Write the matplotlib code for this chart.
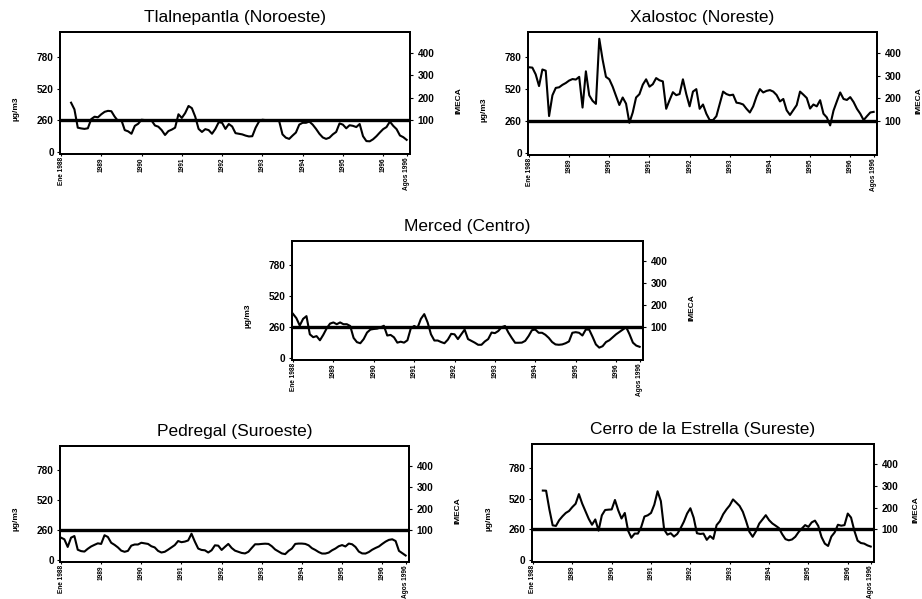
import numpy as np
import matplotlib
matplotlib.use("Agg")
import matplotlib.pyplot as plt

N = None
# Monthly values, Ene 1988 (index 0) ... Agos 1996 (index 103), ug/m3
tlalnepantla = [N, N, N, 405, 350, 200, 194, 190, 195, 270, 290, 285,
                310, 330, 338, 335, 290, 255, 262, 180, 170, 150, 215, 232,
                265, 262, 255, 258, 218, 208, 180, 140, 172, 184, 200, 310,
                280, 320, 378, 360, 290, 190, 165, 188, 180, 150, 190, 245,
                240, 190, 230, 210, 155, 150, 145, 135, 128, 130, 200, 250,
                265, 262, 260, 262, 260, 255, 145, 118, 108, 135, 160, 225,
                240, 240, 250, 225, 190, 150, 120, 108, 118, 145, 165, 235,
                225, 195, 220, 215, 205, 230, 130, 90, 88, 105, 130, 160,
                188, 205, 250, 215, 188, 136, 122, 100]
xalostoc = [698, 695, 640, 545, 680, 670, 301, 470, 530, 535, 555, 570,
            590, 602, 598, 620, 370, 665, 470, 425, 400, 930, 760, 620,
            600, 540, 465, 391, 452, 402, 246, 330, 452, 479, 556, 600,
            540, 560, 610, 592, 583, 360, 430, 495, 471, 480, 600, 480,
            380, 500, 520, 360, 395, 320, 268, 268, 300, 400, 500, 480,
            470, 475, 410, 405, 395, 360, 330, 380, 460, 520, 493, 506,
            512, 500, 472, 420, 440, 348, 310, 350, 390, 500, 475, 448,
            362, 395, 380, 430, 320, 290, 225, 345, 420, 493, 440, 432,
            455, 415, 360, 320, 268, 300, 330, 335]
merced = [372, 336, 274, 330, 353, 200, 176, 185, 150, 196, 250, 290,
          300, 285, 300, 285, 285, 270, 170, 134, 125, 160, 215, 240,
          245, 248, 258, 272, 190, 195, 175, 130, 138, 130, 150, 250,
          270, 255, 330, 370, 300, 200, 148, 148, 135, 125, 155, 204,
          200, 160, 200, 240, 160, 145, 130, 112, 112, 140, 160, 215,
          210, 228, 260, 270, 215, 170, 129, 129, 130, 145, 185, 235,
          240, 213, 213, 196, 170, 135, 115, 112, 115, 125, 140, 213,
          218, 213, 190, 240, 240, 180, 115, 88, 100, 135, 150, 175,
          200, 220, 240, 260, 200, 130, 105, 95]
pedregal = [194, 180, 114, 194, 208, 90, 78, 74, 98, 118, 132, 145,
            140, 215, 200, 150, 132, 110, 82, 72, 80, 125, 135, 135,
            150, 145, 140, 120, 110, 80, 66, 72, 90, 110, 130, 165,
            155, 160, 170, 228, 160, 100, 88, 85, 66, 85, 128, 125,
            88, 115, 140, 105, 82, 72, 62, 58, 72, 105, 137, 137,
            140, 142, 140, 120, 92, 75, 58, 52, 80, 100, 140, 143,
            143, 140, 128, 103, 88, 70, 57, 57, 65, 85, 100, 120,
            130, 118, 143, 137, 114, 74, 58, 57, 70, 90, 105, 118,
            140, 160, 175, 180, 165, 80, 60, 40]
cerro = [N, N, N, 590, 589, 430, 295, 290, 339, 372, 400, 417,
         450, 478, 560, 480, 415, 350, 300, 345, 250, 380, 425, 428,
         430, 510, 422, 353, 400, 250, 190, 225, 225, 280, 370, 380,
         400, 470, 584, 500, 260, 216, 228, 200, 222, 270, 325, 395,
         440, 360, 228, 222, 225, 172, 204, 180, 297, 330, 389, 430,
         464, 515, 488, 460, 410, 330, 240, 198, 245, 310, 345, 381,
         339, 311, 292, 272, 220, 178, 168, 175, 198, 238, 268, 297,
         282, 320, 335, 290, 196, 140, 120, 200, 235, 300, 292, 297,
         395, 361, 250, 165, 145, 140, 125, 115]

titles = ["Tlalnepantla (Noroeste)", "Xalostoc (Noreste)", "Merced (Centro)",
          "Pedregal (Suroeste)", "Cerro de la Estrella (Sureste)"]
series = [tlalnepantla, xalostoc, merced, pedregal, cerro]

x_tick_pos = [0, 12, 24, 36, 48, 60, 72, 84, 96, 103]
x_tick_labels = ["Ene 1988", "1989", "1990", "1991", "1992", "1993",
                 "1994", "1995", "1996", "Agos 1996"]
y_ticks = [0, 260, 520, 780]
imeca_labels = ["100", "200", "300", "400"]
imeca_pos = [260, 445, 630, 815]
norma = 260

# axes rectangles in pixels: left, top, right, bottom
rects = [(60, 32, 410, 154), (528, 32, 877, 155), (292, 241, 643, 360),
         (60, 446, 409, 562), (532, 444, 874, 562)]
imeca_label_offset = [45, 38, 45, 45, 38]   # px right of the right spine

W, H = 922, 599
fig = plt.figure(figsize=(W / 100, H / 100), dpi=100)
fig.patch.set_facecolor("white")

FAM = ["Liberation Sans", "DejaVu Sans"]
tick_font = dict(family=FAM, weight="bold", size=7.2)
xt_font = dict(family=FAM, weight="bold", size=4.7)

for vals, title, (l, t, r, b), off in zip(series, titles, rects, imeca_label_offset):
    ax = fig.add_axes([l / W, (H - b) / H, (r - l) / W, (b - t) / H])
    y = np.array([np.nan if v is None else v for v in vals], dtype=float)
    x = np.arange(len(y))
    ax.plot(x, y, color="black", lw=1.5, solid_joinstyle="round")
    ax.axhline(norma, color="black", lw=2.4)
    ax.set_xlim(-0.3, 104)
    ax.set_ylim(-16, 985)
    ax.set_yticks(y_ticks)
    ax.set_yticklabels([str(v) for v in y_ticks], fontdict=tick_font)
    ax.set_xticks(x_tick_pos)
    ax.set_xticklabels(x_tick_labels, rotation=90, fontdict=xt_font)
    ax.tick_params(axis="y", length=2.5, width=0.8, pad=2)
    ax.tick_params(axis="x", length=1.5, width=0.8, pad=0.8)
    for sp in ax.spines.values():
        sp.set_linewidth(1.4)
    ax.set_title(title, family=FAM, size=12.5, pad=7)
    ax.set_ylabel("µg/m3", family=FAM, weight="bold", size=6)
    ax.yaxis.set_label_coords(-0.115, 0.37)

    ax2 = ax.twinx()
    ax2.set_ylim(ax.get_ylim())
    ax2.set_yticks(imeca_pos)
    ax2.set_yticklabels(imeca_labels, fontdict=tick_font)
    ax2.tick_params(axis="y", length=2.5, width=0.8, pad=3)
    for sp in ax2.spines.values():
        sp.set_linewidth(1.4)
    ax2.set_ylabel("IMECA", family=FAM, weight="bold", size=6, rotation=90)
    ax2.yaxis.set_label_coords(1 + off / (r - l), 0.44)

fig.savefig("out.png", dpi=100, facecolor="white")
